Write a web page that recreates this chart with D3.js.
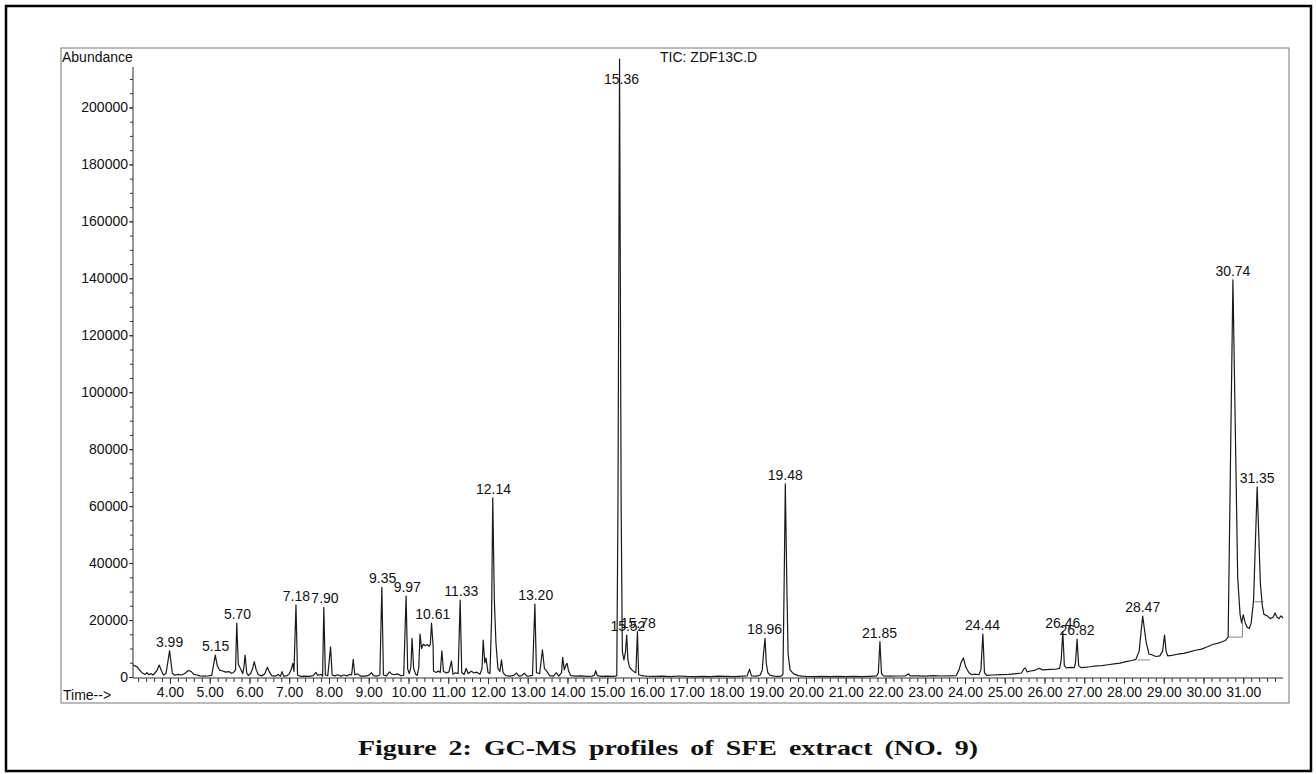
<!DOCTYPE html>
<html>
<head>
<meta charset="utf-8">
<script src="https://cdn.jsdelivr.net/npm/d3@7"></script>
<style>
  body { margin: 0; background: #fff; }
  svg text { font-family: "Liberation Sans", Arial, sans-serif; fill: #111; }
  .figtitle { font-family: "Liberation Serif", "Times New Roman", serif; font-weight: bold; }
  .axis path, .axis line { stroke: #333; }
</style>
</head>
<body>
<svg id="chart"></svg>
<script>
// tick values
var xTicks = [4, 5, 6, 7, 8, 9, 10, 11, 12, 13, 14, 15, 16, 17, 18, 19, 20, 21, 22, 23, 24, 25, 26, 27, 28, 29, 30, 31];
var yTicks = [0, 20000, 40000, 60000, 80000, 100000, 120000, 140000, 160000, 180000, 200000];

// TIC trace: [time (min), abundance]
var trace = [
  [3.07, 4200], [3.12, 3900], [3.17, 3600], [3.22, 2800], [3.27, 1900], [3.32, 1300], [3.37, 900], [3.42, 1500],
  [3.47, 800], [3.52, 1200], [3.57, 700], [3.62, 1400], [3.67, 2200], [3.73, 4200], [3.79, 2000], [3.84, 700],
  [3.9, 1200], [3.99, 9200], [4.06, 1300], [4.12, 600], [4.2, 900], [4.3, 700], [4.38, 1300], [4.46, 2300],
  [4.53, 2000], [4.6, 900], [4.68, 700], [4.75, 400], [4.85, 300], [4.95, 350], [5.05, 600], [5.1, 4500],
  [5.14, 7700], [5.19, 4000], [5.25, 2400], [5.33, 2100], [5.4, 1700], [5.48, 1900], [5.55, 1300], [5.6, 1600],
  [5.65, 2500], [5.68, 18900], [5.72, 4500], [5.76, 3300], [5.8, 2200], [5.83, 1200], [5.86, 3500], [5.89, 7700],
  [5.93, 1500], [5.97, 500], [6.03, 1200], [6.08, 3000], [6.12, 5400], [6.17, 2500], [6.22, 900], [6.3, 400],
  [6.38, 1000], [6.45, 3400], [6.5, 1800], [6.56, 500], [6.65, 300], [6.72, 900], [6.78, 300], [6.82, 1900],
  [6.86, 300], [6.95, 500], [7.0, 1100], [7.05, 2600], [7.09, 4800], [7.12, 2000], [7.17, 25300], [7.21, 600],
  [7.3, 200], [7.4, 300], [7.5, 250], [7.6, 500], [7.67, 1600], [7.72, 600], [7.8, 900], [7.84, 300],
  [7.87, 24500], [7.91, 700], [7.97, 500], [8.04, 10600], [8.08, 700], [8.15, 400], [8.22, 800], [8.3, 300],
  [8.38, 700], [8.45, 400], [8.52, 900], [8.57, 700], [8.61, 6200], [8.65, 800], [8.72, 1100], [8.8, 300],
  [8.9, 300], [9.0, 600], [9.07, 1500], [9.12, 500], [9.2, 300], [9.28, 700], [9.33, 31500], [9.37, 700],
  [9.45, 400], [9.52, 1800], [9.58, 1000], [9.65, 800], [9.72, 1100], [9.8, 500], [9.88, 600], [9.94, 28400],
  [9.98, 2800], [10.02, 1200], [10.06, 3500], [10.09, 13600], [10.13, 3000], [10.18, 1000], [10.22, 600], [10.26, 3500],
  [10.29, 15100], [10.33, 10000], [10.37, 11500], [10.42, 11000], [10.47, 11400], [10.52, 10800], [10.55, 11600], [10.58, 18900],
  [10.62, 10800], [10.63, 2000], [10.7, 1600], [10.75, 2100], [10.8, 1600], [10.84, 9200], [10.88, 2000], [10.95, 1400],
  [11.02, 1800], [11.08, 5600], [11.12, 1000], [11.18, 1500], [11.25, 1200], [11.3, 27000], [11.34, 1600], [11.4, 900],
  [11.45, 3000], [11.5, 1200], [11.58, 2000], [11.65, 1400], [11.72, 1700], [11.8, 1000], [11.85, 3000], [11.88, 13000],
  [11.92, 5000], [11.95, 6600], [12.0, 1600], [12.05, 1200], [12.09, 20000], [12.12, 62900], [12.16, 27000], [12.2, 12000],
  [12.25, 3000], [12.3, 2000], [12.34, 6000], [12.38, 1500], [12.45, 500], [12.55, 300], [12.65, 600], [12.72, 1400],
  [12.78, 300], [12.85, 500], [12.92, 1300], [12.98, 300], [13.05, 400], [13.12, 600], [13.18, 25600], [13.22, 1500],
  [13.3, 1200], [13.37, 9500], [13.42, 3000], [13.48, 2000], [13.55, 500], [13.65, 300], [13.72, 1500], [13.78, 300],
  [13.85, 1500], [13.88, 6900], [13.92, 2500], [13.96, 4200], [13.99, 4800], [14.03, 2000], [14.08, 500], [14.2, 300],
  [14.35, 400], [14.5, 200], [14.62, 300], [14.68, 700], [14.71, 2200], [14.75, 500], [14.85, 200], [15.0, 300],
  [15.15, 200], [15.24, 400], [15.27, 60000], [15.31, 217000], [15.35, 60000], [15.38, 9000], [15.42, 6000], [15.46, 9000],
  [15.49, 14750], [15.52, 6000], [15.56, 3500], [15.62, 2500], [15.68, 1800], [15.72, 1500], [15.76, 15900], [15.79, 800],
  [15.85, 600], [15.92, 400], [16.0, 300], [16.2, 200], [16.4, 300], [16.6, 150], [16.8, 350], [17.0, 200],
  [17.2, 150], [17.4, 250], [17.6, 100], [17.8, 300], [18.0, 200], [18.2, 150], [18.4, 300], [18.52, 400],
  [18.58, 2700], [18.63, 400], [18.75, 300], [18.85, 700], [18.9, 2500], [18.93, 8000], [18.97, 13600], [19.0, 5000],
  [19.04, 1500], [19.1, 600], [19.2, 300], [19.3, 200], [19.38, 300], [19.42, 1000], [19.45, 32000], [19.48, 67800],
  [19.52, 31000], [19.55, 8000], [19.6, 2500], [19.66, 1500], [19.72, 900], [19.8, 500], [19.9, 300], [20.0, 200],
  [20.2, 150], [20.4, 200], [20.6, 100], [20.8, 200], [21.0, 150], [21.2, 200], [21.4, 100], [21.6, 250],
  [21.78, 400], [21.82, 1500], [21.86, 12400], [21.9, 1200], [21.95, 400], [22.1, 300], [22.3, 350], [22.5, 400],
  [22.58, 1100], [22.62, 400], [22.8, 400], [23.0, 300], [23.2, 450], [23.4, 350], [23.6, 400], [23.78, 500],
  [23.85, 2500], [23.9, 5000], [23.96, 6700], [24.02, 3500], [24.1, 1500], [24.17, 800], [24.25, 1000], [24.35, 800],
  [24.4, 2500], [24.45, 15100], [24.49, 1500], [24.55, 600], [24.7, 700], [24.9, 800], [25.1, 900], [25.3, 1200],
  [25.42, 1400], [25.48, 2800], [25.52, 3200], [25.56, 1800], [25.65, 2100], [25.75, 2300], [25.82, 2800], [25.88, 3000],
  [25.95, 2500], [26.05, 2600], [26.15, 2700], [26.3, 2800], [26.38, 3000], [26.42, 6000], [26.46, 15900], [26.5, 4000],
  [26.55, 3200], [26.65, 3400], [26.75, 3300], [26.78, 5000], [26.82, 13300], [26.86, 4000], [26.92, 3300], [27.0, 3400],
  [27.15, 3600], [27.3, 3900], [27.45, 4000], [27.6, 4300], [27.75, 4600], [27.9, 4900], [28.05, 5400], [28.2, 5800],
  [28.3, 6200], [28.38, 9000], [28.47, 21400], [28.56, 12000], [28.63, 8000], [28.7, 7800], [28.8, 7200], [28.9, 7400],
  [28.97, 9000], [29.02, 14700], [29.06, 9000], [29.1, 7400], [29.2, 7600], [29.35, 8000], [29.5, 8300], [29.65, 8800],
  [29.8, 9400], [29.95, 9800], [30.1, 10600], [30.25, 11500], [30.35, 11800], [30.45, 12300], [30.55, 12800], [30.62, 14000],
  [30.74, 139500], [30.86, 35000], [30.92, 22000], [30.96, 19000], [31.0, 21800], [31.05, 19000], [31.1, 17500], [31.15, 17000],
  [31.2, 19000], [31.26, 27000], [31.35, 66800], [31.43, 33000], [31.48, 25000], [31.52, 22000], [31.6, 21500], [31.68, 20500],
  [31.75, 21000], [31.8, 22500], [31.85, 21000], [31.9, 20500], [31.95, 21500], [32.0, 20700]
];

// peak labels: [text, retention time, abundance the label sits on]
var peakLabels = [
  ["3.99", 3.99, 9200], ["5.15", 5.15, 7700], ["5.70", 5.70, 18900], ["7.18", 7.18, 25300],
  ["7.90", 7.90, 24500], ["9.35", 9.35, 31500], ["9.97", 9.97, 28400], ["10.61", 10.61, 18900],
  ["11.33", 11.33, 27000], ["12.14", 12.14, 62900], ["13.20", 13.20, 25600], ["15.36", 15.36, 207000],
  ["15.52", 15.52, 14750], ["15.78", 15.78, 15900], ["18.96", 18.96, 13600], ["19.48", 19.48, 67800],
  ["21.85", 21.85, 12400], ["24.44", 24.44, 15100], ["26.46", 26.46, 15900], ["26.82", 26.82, 13300],
  ["28.47", 28.47, 21400], ["30.74", 30.74, 139500], ["31.35", 31.35, 66800]
];

// integration baselines: [t1, a1, t2, a2]
var integrations = [
  [28.34, 6000, 28.66, 6000],
  [30.63, 14000, 30.98, 14000],
  [30.98, 14000, 30.98, 19000],
  [31.28, 26400, 31.51, 26400]
];

var screen = { width: 1316, height: 774 };

var svg = d3.select("#chart").attr("width", screen.width).attr("height", screen.height);

// frames
svg.append("rect")
  .attr("x", 6).attr("y", 6)
  .attr("width", 1305).attr("height", 765)
  .attr("fill", "none").attr("stroke", "#000").attr("stroke-width", 2.5);

svg.append("rect")
  .attr("x", 61).attr("y", 48)
  .attr("width", 1228).attr("height", 655)
  .attr("fill", "none").attr("stroke", "#777").attr("stroke-width", 1);

//scales//
var xScale = d3.scaleLinear().domain([3.07, 32.0]).range([133, 1283]);
var yScale = d3.scaleLinear().domain([0, 214200]).range([677, 67]);

// y axis
var yAxis = d3.axisLeft(yScale)
  .tickValues(yTicks)
  .tickSize(4)
  .tickSizeOuter(0)
  .tickPadding(1)
  .tickFormat(d3.format("d"));

var yMinor = d3.axisLeft(yScale)
  .tickValues(d3.range(0, 214001, 5000))
  .tickSize(3)
  .tickSizeOuter(0)
  .tickFormat("");

svg.append("g").classed("axis", true).attr("transform", "translate(133,0)").call(yMinor);
var yG = svg.append("g").classed("axis", true).attr("transform", "translate(133,0)").call(yAxis);
yG.selectAll("text").style("font-size", "14px");
svg.selectAll(".axis .domain").remove();

svg.append("line")
  .attr("x1", 133).attr("x2", 133)
  .attr("y1", 67).attr("y2", 678)
  .attr("stroke", "#333");

// x axis
var xAxis = d3.axisBottom(xScale)
  .tickValues(xTicks)
  .tickSize(6)
  .tickSizeOuter(0)
  .tickPadding(3)
  .tickFormat(d3.format(".2f"));

var xMinor = d3.axisBottom(xScale)
  .tickValues(d3.range(3.2, 32.0, 0.2))
  .tickSize(4)
  .tickSizeOuter(0)
  .tickFormat("");

svg.append("g").classed("axis", true).attr("transform", "translate(0,678)").call(xMinor);
var xG = svg.append("g").classed("axis", true).attr("transform", "translate(0,678)").call(xAxis);
xG.selectAll("text").style("font-size", "14px");
svg.selectAll(".axis .domain").remove();

svg.append("line")
  .attr("x1", 133).attr("x2", 1283)
  .attr("y1", 678).attr("y2", 678)
  .attr("stroke", "#333");

// labels
svg.append("text").text("Abundance")
  .attr("x", 62).attr("y", 62)
  .style("font-size", "14px");

svg.append("text").text("Time-->")
  .attr("x", 63).attr("y", 700)
  .style("font-size", "14px");

svg.append("text").text("TIC: ZDF13C.D")
  .attr("x", 660).attr("y", 62)
  .style("font-size", "14px");

svg.append("text").text("Figure 2: GC-MS profiles of SFE extract (NO. 9)")
  .classed("figtitle", true)
  .attr("text-anchor", "middle")
  .attr("x", 668).attr("y", 755)
  .attr("textLength", 620)
  .attr("lengthAdjust", "spacingAndGlyphs")
  .style("font-size", "22px")
  .style("word-spacing", "4px");

// integration lines
svg.append("g").selectAll("line")
  .data(integrations)
  .enter()
  .append("line")
  .attr("x1", function (d) { return xScale(d[0]); })
  .attr("y1", function (d) { return yScale(d[1]); })
  .attr("x2", function (d) { return xScale(d[2]); })
  .attr("y2", function (d) { return yScale(d[3]); })
  .attr("stroke", "#888")
  .attr("stroke-width", 1);

// the trace
var line = d3.line()
  .x(function (d) { return xScale(d[0]); })
  .y(function (d) { return yScale(d[1]); });

svg.append("path")
  .datum(trace)
  .attr("d", line)
  .attr("fill", "none")
  .attr("stroke", "#1a1a1a")
  .attr("stroke-width", 1.2)
  .attr("stroke-linejoin", "round");

// peak labels
svg.append("g").selectAll("text")
  .data(peakLabels)
  .enter()
  .append("text")
  .text(function (d) { return d[0]; })
  .attr("text-anchor", "middle")
  .attr("x", function (d) { return xScale(d[1]); })
  .attr("y", function (d) { return yScale(d[2]) - 4; })
  .style("font-size", "14px");
</script>
</body>
</html>
